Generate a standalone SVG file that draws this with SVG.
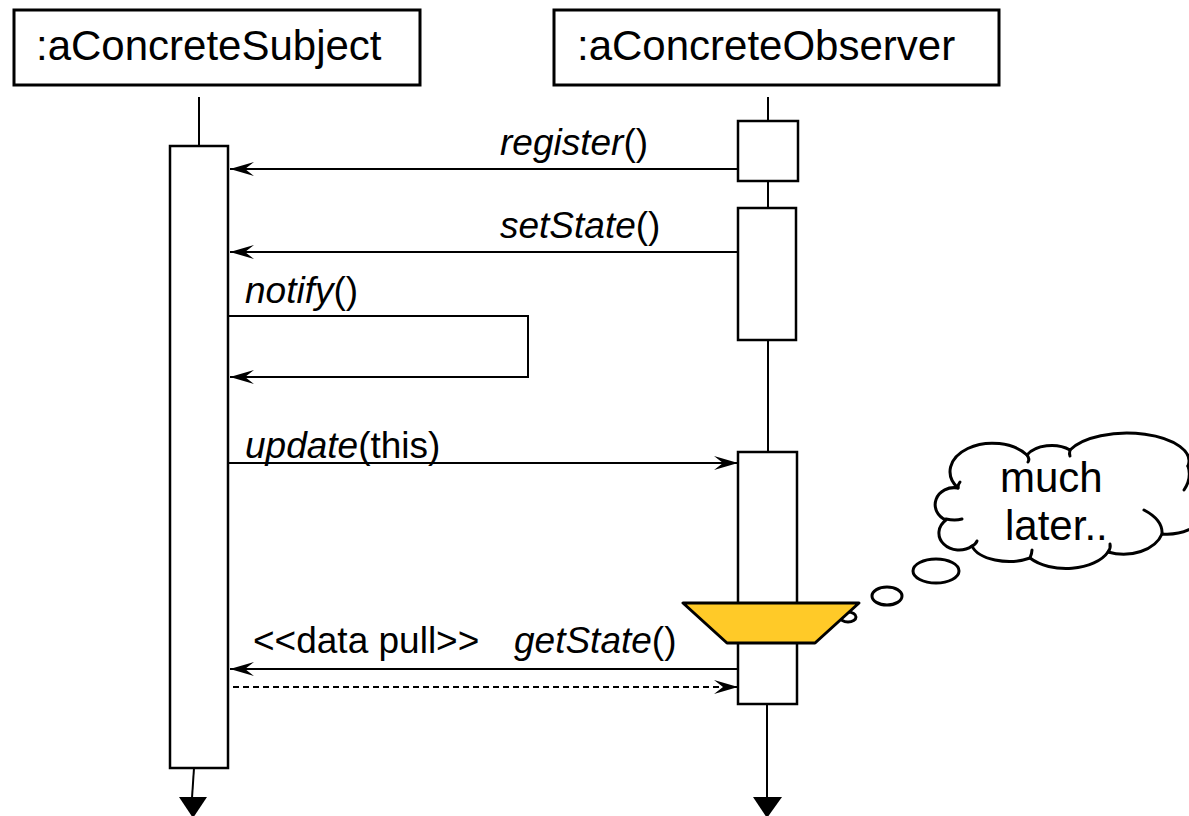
<svg xmlns="http://www.w3.org/2000/svg" width="1189" height="816" viewBox="0 0 1189 816">
<style>
.hdr{fill:#fff;stroke:#000;stroke-width:3}
.act{fill:#fff;stroke:#000;stroke-width:2.5}
.life{stroke:#000;stroke-width:2;fill:none}
.msg{stroke:#000;stroke-width:2;fill:none}
.dash{stroke-dasharray:6 4}
.t42{font-family:"Liberation Sans",Arial,sans-serif;font-size:42px;fill:#000}
.t37{font-family:"Liberation Sans",Arial,sans-serif;font-size:37px;fill:#000}
.it{font-style:italic}
.cloud{fill:#fff;stroke:#000;stroke-width:3;stroke-linejoin:round}
.stub{fill:none;stroke:#000;stroke-width:3;stroke-linecap:round}
</style>
<defs>
<marker id="ah" markerUnits="userSpaceOnUse" viewBox="-26 -9 28 18" refX="0" refY="0" markerWidth="28" markerHeight="18" orient="auto">
<path d="M0,0 L-24,-7 L-15,0 L-24,7 Z" fill="#000"/>
</marker>
</defs>

<g id="subject">
<rect class="hdr" x="14" y="10" width="406" height="75"/>
<text class="t42" x="36" y="60">:aConcreteSubject</text>
<line class="life" x1="199" y1="97" x2="199" y2="146"/>
<rect class="act" x="170" y="146" width="58" height="622"/>
<line class="life" x1="194" y1="768" x2="192" y2="798"/>
<polygon points="179,797 207,797 193,818" fill="#000"/>
</g>

<g id="observer">
<rect class="hdr" x="554" y="10" width="445" height="75"/>
<text class="t42" x="577" y="60">:aConcreteObserver</text>
<line class="life" x1="768" y1="97" x2="768" y2="121"/>
<rect class="act" x="738" y="121" width="60" height="60"/>
<line class="life" x1="768" y1="181" x2="768" y2="208"/>
<rect class="act" x="738" y="208" width="58" height="132"/>
<line class="life" x1="768" y1="340" x2="768" y2="452"/>
<rect class="act" x="738" y="452" width="59" height="252"/>
<line class="life" x1="767" y1="704" x2="767" y2="798"/>
<polygon points="753,797 782,797 767,818" fill="#000"/>
</g>

<g id="connectors">
<line class="msg" x1="738" y1="169" x2="230" y2="169" marker-end="url(#ah)"/>
<text class="t37" x="500" y="155"><tspan class="it">register</tspan>()</text>
<line class="msg" x1="738" y1="252" x2="230" y2="252" marker-end="url(#ah)"/>
<text class="t37" x="500" y="238"><tspan class="it">setState</tspan>()</text>
<polyline class="msg" points="228,316 528,316 528,377 230,377" marker-end="url(#ah)"/>
<text class="t37" x="245" y="303"><tspan class="it">notify</tspan>()</text>
<line class="msg" x1="228" y1="463" x2="738" y2="463" marker-end="url(#ah)"/>
<text class="t37" x="245" y="458"><tspan class="it">update</tspan>(this)</text>
<line class="msg" x1="738" y1="669" x2="230" y2="669" marker-end="url(#ah)"/>
<text class="t37" x="514" y="653"><tspan class="it">getState</tspan>()</text>
<text class="t37" x="253" y="653">&lt;&lt;data pull&gt;&gt;</text>
<line class="msg dash" x1="233" y1="687" x2="738" y2="687" marker-end="url(#ah)"/>
</g>

<g id="thought">
<path class="cloud" d="M958,488 A36,24 0 0 1 1027,455 A28,18 0 0 1 1070,450 A62,28 0 0 1 1188,466 A30,30 0 0 1 1204,515 A38,24 0 0 1 1162,534 A40,28 0 0 1 1108,552 A45,26 0 0 1 1030,558 A38,20 0 0 1 972,546 A20,17 0 0 1 946,520 A19,17 0 0 1 958,488 Z"/>
<path class="stub" d="M946,519 Q955,521 962,519"/>
<path class="stub" d="M958,488 Q958,484 960,482"/>
<path class="stub" d="M1027,455 Q1030,459 1028,462"/>
<path class="stub" d="M1070,450 Q1069,454 1070,456"/>
<path class="stub" d="M972,546 Q976,544 977,541"/>
<path class="stub" d="M1030,558 Q1032,553 1032,550"/>
<path class="stub" d="M1108,552 Q1111,548 1110,544"/>
<path class="stub" d="M1162,534 Q1163,520 1144,510"/>
<path class="stub" d="M1188,466 Q1192,478 1184,490"/>
<text class="t42" x="1000" y="492">much</text>
<text class="t42" x="1005" y="540">later..</text>
<ellipse class="cloud" cx="936" cy="571" rx="23" ry="12"/>
<ellipse class="cloud" cx="887" cy="596" rx="15" ry="9"/>
<ellipse class="cloud" cx="848" cy="617" rx="8" ry="5"/>
</g>

<g id="break">
<polygon points="683,603 859,603 815,643 727,643" fill="#ffca28" stroke="#000" stroke-width="3" stroke-linejoin="round"/>
</g>
</svg>
